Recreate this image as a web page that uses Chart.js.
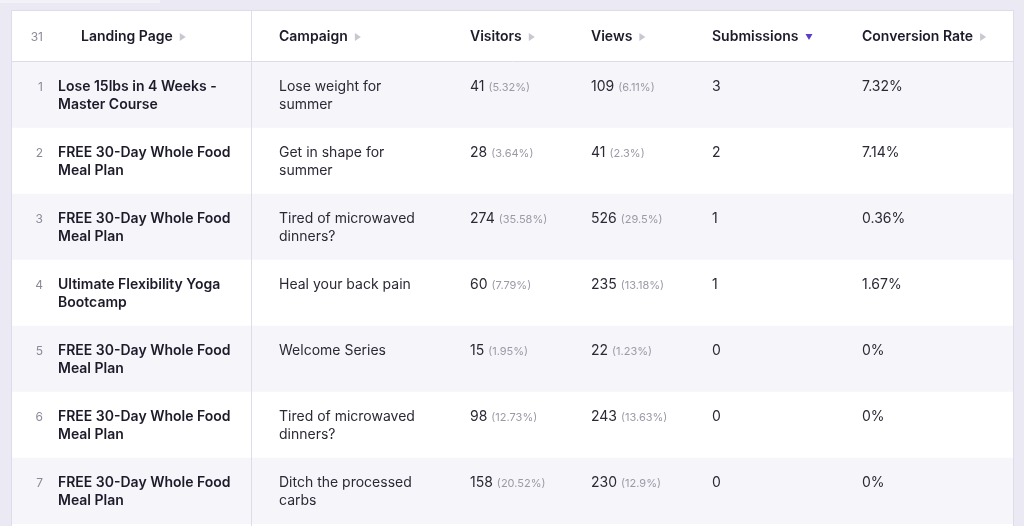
<!DOCTYPE html>
<html>
<head>
<meta charset="utf-8">
<script src="https://cdn.jsdelivr.net/npm/chart.js@4"></script>
<style>
  html, body { margin: 0; padding: 0; background: #ebe9f3; overflow: hidden; }
  #tab { position: absolute; left: 0; top: 0; width: 160px; height: 3px; background: #f3f2f8; }
  #card { position: absolute; left: 11px; top: 10px; width: 1001px; height: 530px; border: 1px solid #dedce8; background: #fff; }
  #card canvas { display: block; }
</style>
</head>
<body>
<div id="tab"></div>
<div id="card"><canvas id="table-chart"></canvas></div>
<script>
// --- data ---
const totalRows = 31;
const headers = ['Landing Page', 'Campaign', 'Visitors', 'Views', 'Submissions', 'Conversion Rate'];
const landingPages = [
    ['Lose 15lbs in 4 Weeks -', 'Master Course'],
    ['FREE 30-Day Whole Food', 'Meal Plan'],
    ['FREE 30-Day Whole Food', 'Meal Plan'],
    ['Ultimate Flexibility Yoga', 'Bootcamp'],
    ['FREE 30-Day Whole Food', 'Meal Plan'],
    ['FREE 30-Day Whole Food', 'Meal Plan'],
    ['FREE 30-Day Whole Food', 'Meal Plan'],
];
const campaigns = [
    ['Lose weight for', 'summer'],
    ['Get in shape for', 'summer'],
    ['Tired of microwaved', 'dinners?'],
    ['Heal your back pain'],
    ['Welcome Series'],
    ['Tired of microwaved', 'dinners?'],
    ['Ditch the processed', 'carbs'],
];
const visitors = [41, 28, 274, 60, 15, 98, 158];
const visitorsPct = ['5.32%', '3.64%', '35.58%', '7.79%', '1.95%', '12.73%', '20.52%'];
const views = [109, 41, 526, 235, 22, 243, 230];
const viewsPct = ['6.11%', '2.3%', '29.5%', '13.18%', '1.23%', '13.63%', '12.9%'];
const submissions = [3, 2, 1, 1, 0, 0, 0];
const conversionRates = ['7.32%', '7.14%', '0.36%', '1.67%', '0%', '0%', '0%'];
const rowLabels = visitors.map((v, i) => String(i + 1));

// --- layout (x in scale units == card px) ---
const TABLE_WIDTH = 1001;
const HEADER_H = 51;
const COL_X = { num: 31, landing: 46, campaign: 267, visitors: 458, views: 579, subs: 700, conv: 850 };
const HEADER_X = [69, 267, 458, 579, 700, 850];
const DIVIDER_X = 239;

const textPlugin = {
    id: 'tableText',
    afterDatasetsDraw(chart) {
        const ctx = chart.ctx;
        const x = chart.scales.x;
        const y = chart.scales.y;
        const top = chart.chartArea.top;
        const headTop = top - HEADER_H;
        ctx.save();

        // header
        const hy = headTop + 26;
        ctx.textBaseline = 'middle';
        ctx.font = '12px Inter';
        ctx.fillStyle = '#8c8a98';
        ctx.textAlign = 'right';
        ctx.fillText(String(totalRows), x.getPixelForValue(COL_X.num), hy);
        ctx.textAlign = 'left';
        ctx.font = '600 14px Inter';
        headers.forEach((h, i) => {
            const hx = x.getPixelForValue(HEADER_X[i]);
            ctx.fillStyle = '#1d1b2a';
            ctx.fillText(h, hx, hy);
            const w = ctx.measureText(h).width;
            const ax = hx + w + 7;
            ctx.beginPath();
            if (h === 'Submissions') {
                ctx.fillStyle = '#5a3ec8';
                ctx.moveTo(ax, hy - 3); ctx.lineTo(ax + 7, hy - 3); ctx.lineTo(ax + 3.5, hy + 3);
            } else {
                ctx.fillStyle = '#c9c7d2';
                ctx.moveTo(ax, hy - 4); ctx.lineTo(ax + 6, hy); ctx.lineTo(ax, hy + 4);
            }
            ctx.fill();
        });

        // header bottom + divider
        ctx.strokeStyle = '#dedce8';
        ctx.lineWidth = 1;
        ctx.beginPath();
        ctx.moveTo(0, top - 0.5); ctx.lineTo(chart.width, top - 0.5);
        const dx = Math.round(x.getPixelForValue(DIVIDER_X)) + 0.5;
        ctx.moveTo(dx, headTop); ctx.lineTo(dx, chart.height);
        ctx.stroke();

        // rows
        rowLabels.forEach((lab, i) => {
            const rowTop = y.getPixelForValue(i) - 33;
            const l1 = rowTop + 25, l2 = rowTop + 43;
            ctx.textAlign = 'right';
            ctx.font = '12px Inter';
            ctx.fillStyle = '#8c8a98';
            ctx.fillText(lab, x.getPixelForValue(COL_X.num), l1);
            ctx.textAlign = 'left';
            ctx.font = '600 14px Inter';
            ctx.fillStyle = '#1d1b2a';
            landingPages[i].forEach((t, k) => ctx.fillText(t, x.getPixelForValue(COL_X.landing), k ? l2 : l1));
            ctx.font = '14px Inter';
            ctx.fillStyle = '#2a2935';
            campaigns[i].forEach((t, k) => ctx.fillText(t, x.getPixelForValue(COL_X.campaign), k ? l2 : l1));

            const withPct = (val, pct, cx) => {
                ctx.font = '14px Inter';
                ctx.fillStyle = '#2a2935';
                const px = x.getPixelForValue(cx);
                ctx.fillText(String(val), px, l1);
                const w = ctx.measureText(String(val)).width;
                ctx.font = '11px Inter';
                ctx.fillStyle = '#9b99a6';
                ctx.fillText('(' + pct + ')', px + w + 4, l1 + 1);
            };
            withPct(visitors[i], visitorsPct[i], COL_X.visitors);
            withPct(views[i], viewsPct[i], COL_X.views);
            ctx.font = '14px Inter';
            ctx.fillStyle = '#2a2935';
            ctx.fillText(String(submissions[i]), x.getPixelForValue(COL_X.subs), l1);
            ctx.fillText(conversionRates[i], x.getPixelForValue(COL_X.conv), l1);
        });
        ctx.restore();
    }
};

new Chart(document.getElementById('table-chart'), {
    type: 'bar',
    data: {
        labels: rowLabels,
        datasets: [{
            data: rowLabels.map(() => [0, TABLE_WIDTH]),
            backgroundColor: rowLabels.map((r, i) => i % 2 === 0 ? '#f6f5fa' : '#ffffff'),
            borderWidth: 0,
            barPercentage: 1,
            categoryPercentage: 1,
        }]
    },
    options: {
        indexAxis: 'y',
        responsive: true,
        maintainAspectRatio: false,
        animation: false,
        layout: { padding: { top: HEADER_H, bottom: 530 - HEADER_H - 66 * 7 } },
        plugins: { legend: { display: false }, tooltip: { enabled: false } },
        scales: {
            x: { type: 'linear', min: 0, max: TABLE_WIDTH, display: false },
            y: { display: false, offset: true }
        }
    },
    plugins: [textPlugin]
});
</script>
</body>
</html>
